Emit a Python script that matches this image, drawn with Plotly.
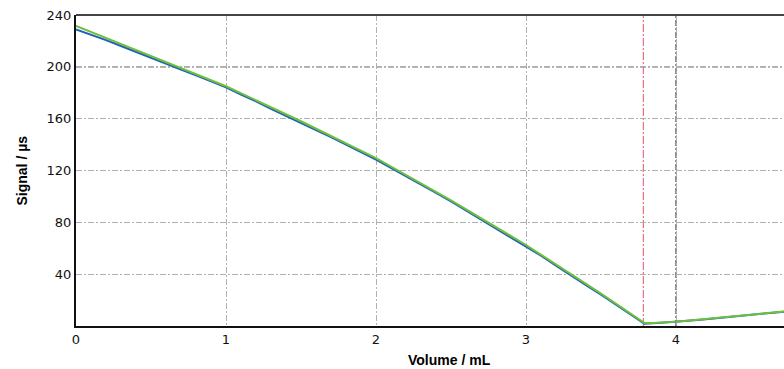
import plotly.graph_objects as go

# Fitted curve (green)
fit_volume = [0.0, 0.5, 1.0, 1.5, 2.0, 2.5, 3.0, 3.5, 3.79, 3.85, 4.0, 4.73]
fit_signal = [231.5, 208.5, 185.0, 158.0, 129.5, 97.0, 62.5, 25.0, 2.3, 2.3, 3.3, 11.3]

# Measured data (blue)
meas_volume = [0.0, 0.1, 0.2, 0.3, 0.4, 0.5, 0.6, 0.7, 0.8, 0.9,
               1.0, 1.1, 1.2, 1.3, 1.4, 1.5, 1.6, 1.7, 1.8, 1.9,
               2.0, 2.1, 2.2, 2.3, 2.4, 2.5, 2.6, 2.7, 2.8, 2.9,
               3.0, 3.1, 3.2, 3.3, 3.4, 3.5, 3.6, 3.7, 3.79, 3.9,
               4.0, 4.1, 4.2, 4.3, 4.4, 4.5, 4.6, 4.73]
meas_signal = [228.8, 224.9, 220.6, 216.1, 211.7, 207.0, 202.6, 197.9, 193.4, 188.5,
               184.2, 178.5, 173.4, 167.6, 162.3, 156.8, 151.2, 145.7, 139.6, 134.1,
               128.4, 122.1, 115.7, 109.0, 102.8, 96.1, 89.2, 82.5, 75.3, 68.7,
               61.6, 54.3, 46.6, 39.4, 31.6, 24.2, 16.6, 8.8, 1.8, 2.5,
               3.1, 4.2, 5.3, 6.5, 7.6, 8.6, 9.8, 11.2]

endpoint_volume = 3.782
x_ticks = [0, 1, 2, 3, 4]
y_ticks = [40, 80, 120, 160, 200, 240]
dark_x_grid = 4
dark_y_grid = 200

grid_dash = "6px,2px,2px,2px"

fig = go.Figure()
fig.add_trace(go.Scatter(x=meas_volume, y=meas_signal, mode="lines",
                         line=dict(color="#1f5fbf", width=2), showlegend=False))
fig.add_trace(go.Scatter(x=fit_volume, y=fit_signal, mode="lines",
                         line=dict(color="#6cc03a", width=2), showlegend=False))

# darker reference grid lines and endpoint marker
fig.add_shape(type="line", xref="x", yref="paper", x0=dark_x_grid, x1=dark_x_grid, y0=0, y1=1,
              line=dict(color="#222", width=1, dash=grid_dash), layer="below")
fig.add_shape(type="line", xref="paper", yref="y", x0=0, x1=1, y0=dark_y_grid, y1=dark_y_grid,
              line=dict(color="#222", width=1, dash=grid_dash), layer="below")
fig.add_shape(type="line", xref="x", yref="paper", x0=endpoint_volume, x1=endpoint_volume, y0=0, y1=1,
              line=dict(color="#e8506a", width=1, dash="8px,2px,2px,2px"), layer="below")
# top border
fig.add_shape(type="line", xref="paper", yref="paper", x0=0, x1=1, y0=1, y1=1,
              line=dict(color="#444", width=2))

fig.add_annotation(text="<b>Volume / mL</b>", xref="paper", yref="paper",
                   x=0.528, y=0, yshift=-34, showarrow=False, xanchor="center", yanchor="middle",
                   font=dict(family="Liberation Sans, Arial", size=14, color="#000"))
fig.add_annotation(text="<b>Signal / µs</b>", xref="paper", yref="paper",
                   x=0, xshift=-55, y=0.5, textangle=-90, showarrow=False,
                   xanchor="center", yanchor="middle",
                   font=dict(family="Liberation Sans, Arial", size=14, color="#000"))

fig.update_layout(
    width=784, height=369,
    margin=dict(l=76, r=0, t=15, b=43),
    paper_bgcolor="white", plot_bgcolor="white",
    xaxis=dict(range=[0, 4.72], tickvals=x_ticks, ticktext=[str(v) for v in x_ticks],
               showgrid=True, gridcolor="#b0b0b0", griddash=grid_dash, gridwidth=1,
               zeroline=False, showline=True, linecolor="#111", linewidth=2,
               ticks="", tickfont=dict(family="DejaVu Sans", size=13, color="#111")),
    yaxis=dict(range=[0, 240], tickvals=y_ticks, ticktext=[str(v) for v in y_ticks],
               showgrid=True, gridcolor="#b0b0b0", griddash=grid_dash, gridwidth=1,
               zeroline=False, showline=True, linecolor="#111", linewidth=2,
               ticks="", tickfont=dict(family="DejaVu Sans", size=13, color="#111")),
)

fig.write_html("out.html")
